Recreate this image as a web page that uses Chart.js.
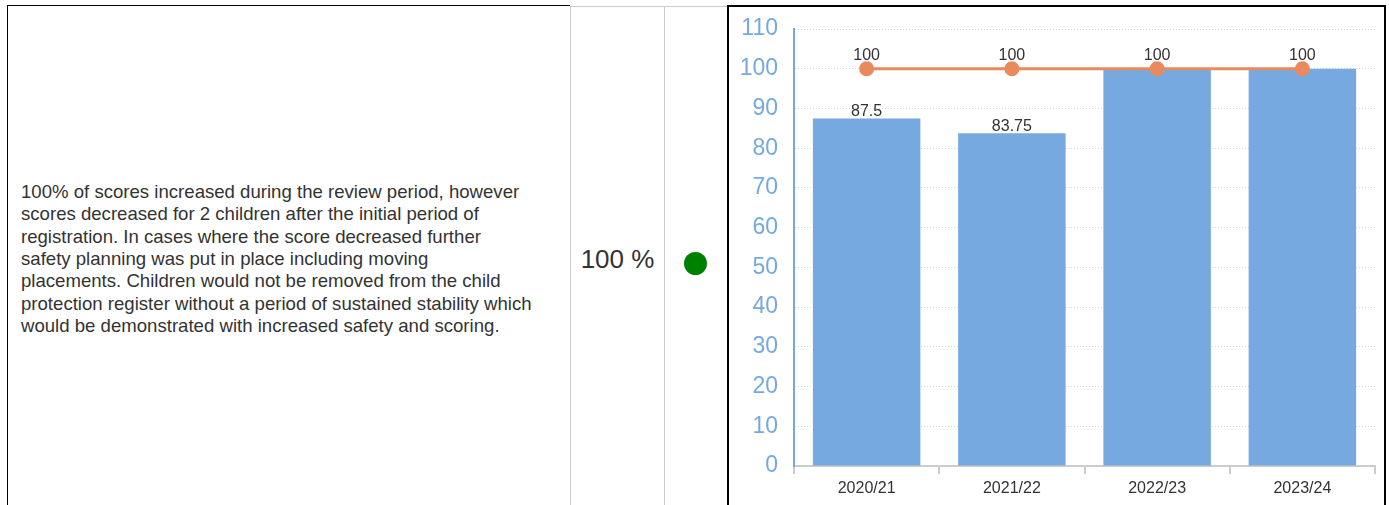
<!DOCTYPE html>
<html>
<head>
<meta charset="utf-8">
<script src="https://cdn.jsdelivr.net/npm/chart.js@4.4.1/dist/chart.umd.min.js"></script>
<style>
    body { margin: 0; background: #fff; font-family: "Liberation Sans", Arial, sans-serif; color: #333; }
    .page { position: relative; width: 1389px; height: 505px; overflow: hidden; }
    .row-top { position: absolute; left: 7px; top: 5px; width: 563px; height: 1px; background: #000; }
    .row-left { position: absolute; left: 7px; top: 5px; width: 1px; height: 510px; background: #000; }
    .cell-top { position: absolute; left: 570px; top: 6px; width: 157px; height: 1px; background: #ccc; }
    .sep { position: absolute; top: 6px; width: 1px; height: 510px; background: #ccc; }
    .comment { position: absolute; left: 21px; top: 181px; white-space: nowrap; font-size: 18.6px; line-height: 22.35px; }
    .score { position: absolute; left: 571px; top: 244px; width: 93px; text-align: center; font-size: 26px; }
    .dot { position: absolute; left: 684px; top: 252px; width: 23px; height: 23px; border-radius: 50%; background: #008000; }
    .chart-box { position: absolute; left: 727px; top: 5px; width: 655px; height: 510px; border: 2px solid #000; border-bottom: none; }
    .chart-box canvas { position: absolute; left: 0; top: 0; }
</style>
</head>
<body>
<div class="page">
    <div class="row-top"></div>
    <div class="row-left"></div>
    <div class="cell-top"></div>
    <div class="sep" style="left:570px"></div>
    <div class="sep" style="left:664px"></div>
    <div class="comment">100% of scores increased during the review period, however<br>scores decreased for 2 children after the initial period of<br>registration. In cases where the score decreased further<br>safety planning was put in place including moving<br>placements. Children would not be removed from the child<br>protection register without a period of sustained stability which<br>would be demonstrated with increased safety and scoring.</div>
    <div class="score">100 %</div>
    <div class="dot"></div>
    <div class="chart-box"><canvas id="chart" width="655" height="498"></canvas></div>
</div>

<script>
const years = ['2020/21', '2021/22', '2022/23', '2023/24'];
const actualValues = [87.5, 83.75, 100, 100];
const targetValues = [100, 100, 100, 100];
const yTicks = [0, 10, 20, 30, 40, 50, 60, 70, 80, 90, 100, 110];

// simple value labels, no datalabels plugin available offline
// a bar label is hidden when the line label sits on the same value
const valueLabels = {
    id: 'valueLabels',
    afterDatasetsDraw(chart) {
        const ctx = chart.ctx;
        ctx.save();
        ctx.font = '16px "Liberation Sans", Arial, sans-serif';
        ctx.fillStyle = '#333';
        ctx.textAlign = 'center';
        ctx.textBaseline = 'bottom';
        chart.data.datasets.forEach((ds, i) => {
            const meta = chart.getDatasetMeta(i);
            meta.data.forEach((el, j) => {
                const isLine = ds.type === 'line';
                if (!isLine && ds.data[j] === targetValues[j]) return;
                ctx.fillText(String(ds.data[j]), el.x, isLine ? el.y - 5 : el.y + 1);
            });
        });
        ctx.restore();
    }
};

new Chart(document.getElementById('chart'), {
    data: {
        labels: years,
        datasets: [
            {
                type: 'line',
                data: targetValues,
                borderColor: '#ea8a5c',
                backgroundColor: '#ea8a5c',
                borderWidth: 3,
                pointRadius: 6,
                pointHoverRadius: 6,
                order: 0
            },
            {
                type: 'bar',
                data: actualValues,
                backgroundColor: '#76a9e0',
                categoryPercentage: 0.74,
                barPercentage: 1,
                order: 1
            }
        ]
    },
    plugins: [valueLabels],
    options: {
        responsive: false,
        animation: false,
        layout: { padding: { top: 0, right: 8, left: 0, bottom: 0 } },
        plugins: { legend: { display: false }, tooltip: { enabled: false } },
        scales: {
            x: {
                afterFit: s => { s.height = 39; },
                grid: { display: true, drawOnChartArea: false, offset: true, tickLength: 8, color: '#ccc', lineWidth: 2 },
                border: { color: '#ccc', width: 2 },
                ticks: { color: '#333', font: { size: 16, family: '"Liberation Sans", Arial' }, padding: 5 }
            },
            y: {
                min: 0,
                max: 110,
                afterFit: s => { s.width = 65; s.paddingTop = 22; },
                afterBuildTicks: s => { s.ticks = yTicks.map(v => ({ value: v })); },
                grid: { color: '#d4d4d4', drawTicks: false },
                border: { color: '#76a9e0', width: 2, dash: [1, 2] },
                ticks: { color: '#76a9e0', font: { size: 23, family: '"Liberation Sans", Arial' }, padding: 16 }
            }
        }
    }
});
</script>
</body>
</html>
